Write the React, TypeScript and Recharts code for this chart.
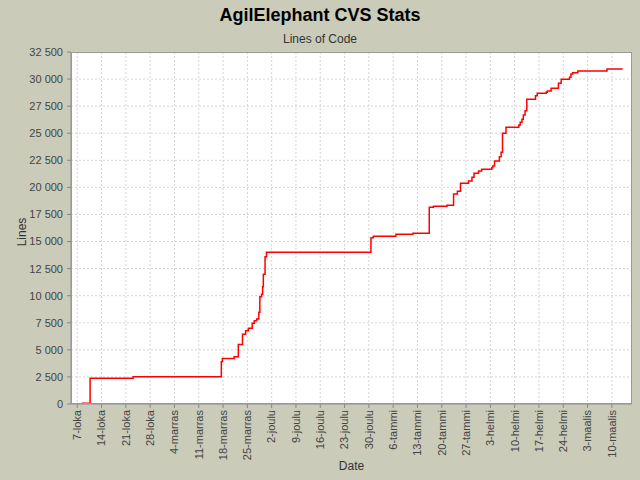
import { CartesianGrid, Line, LineChart, XAxis, YAxis } from 'recharts';

// days counted from 7-loka, and cumulative lines of code at that commit
const commitDay = [
  1.3, 3.7, 16.1, 41.5, 41.8, 45.2, 46.4, 47.6, 48.5, 49.3, 50.4, 51.0, 51.7, 52.3, 52.6, 53.1,
  53.4, 53.6, 54.1, 54.5, 84.6, 85.3, 91.8, 96.7, 101.4, 102.6, 106.5, 108.4, 109.5, 110.4,
  112.7, 113.7, 114.3, 115.6, 116.5, 119.4, 119.7, 120.2, 121.6, 122.1, 122.5, 123.5, 127.2,
  127.6, 128.1, 128.5, 129.0, 129.5, 132.0, 132.5, 135.1, 135.4, 136.5, 138.6, 139.4, 141.8,
  142.2, 142.7, 144.2, 152.6, 156.9,
];
const lineCount = [
  60, 2370, 2520, 3900, 4200, 4370, 5500, 6450, 6770, 6990, 7450, 7690, 7850, 8460, 9910, 10130,
  10830, 11980, 13600, 14000, 15360, 15480, 15670, 15760, 18160, 18250, 18350, 19390, 19640, 20380,
  20590, 20930, 21300, 21510, 21670, 21820, 21970, 22440, 22830, 23240, 24990, 25550, 25760,
  26010, 26290, 26680, 27080, 28130, 28470, 28690, 28780, 28900, 29150, 29610, 29980, 30160,
  30470, 30590, 30750, 30930, 31000,
];

const weekLabels = [
  '7-loka', '14-loka', '21-loka', '28-loka', '4-marras', '11-marras', '18-marras', '25-marras',
  '2-joulu', '9-joulu', '16-joulu', '23-joulu', '30-joulu', '6-tammi', '13-tammi', '20-tammi',
  '27-tammi', '3-helmi', '10-helmi', '17-helmi', '24-helmi', '3-maalis', '10-maalis',
];
const yTicks = [
  0, 2500, 5000, 7500, 10000, 12500, 15000, 17500, 20000, 22500, 25000, 27500, 30000, 32500,
];

const data = commitDay.map((day, i) => ({ day, lines: lineCount[i] }));
const xTicks = weekLabels.map((_, i) => i * 7);

const FONT = '"Liberation Sans", Arial, sans-serif';
const BG = '#cbcbb9';

const fmtLines = (v: number) => String(v).replace(/\B(?=(\d{3})+(?!\d))/g, ' ');

function WeekTick(props: any) {
  const { x, y, payload } = props;
  const label = weekLabels[Math.round(payload.value / 7)] ?? '';
  return (
    <text
      x={x}
      y={y}
      dy="0.35em"
      transform={`rotate(-90, ${x}, ${y})`}
      textAnchor="end"
      fontSize={11}
      fontFamily={FONT}
      fill="#444"
    >
      {label}
    </text>
  );
}

export default function App() {
  return (
    <div
      style={{
        position: 'absolute',
        left: 0,
        top: 0,
        width: 640,
        height: 480,
        background: BG,
        fontFamily: FONT,
      }}
    >
      <div style={{ position: 'absolute', top: 5, width: 640, textAlign: 'center', fontSize: 18, fontWeight: 'bold', color: '#000' }}>
        AgilElephant CVS Stats
      </div>
      <div style={{ position: 'absolute', top: 32, width: 640, textAlign: 'center', fontSize: 12, color: '#333' }}>
        Lines of Code
      </div>
      <div
        style={{
          position: 'absolute',
          left: 22,
          top: 232,
          transform: 'translate(-50%, -50%) rotate(-90deg)',
          fontSize: 12,
          color: '#333',
        }}
      >
        Lines
      </div>
      <LineChart
        width={640}
        height={480}
        data={data}
        margin={{ top: 52, right: 8, bottom: 6, left: 0 }}
        style={{ position: 'absolute', left: 0, top: 0 }}
      >
        <CartesianGrid
          fill="#fff"
          stroke="#d4d4d4"
          strokeDasharray="2 2"
          horizontalValues={yTicks}
          verticalValues={xTicks}
        />
        <XAxis
          dataKey="day"
          type="number"
          domain={[-1.8, 159.8]}
          ticks={xTicks}
          interval={0}
          allowDataOverflow
          height={70}
          tickSize={4}
          tickMargin={2}
          stroke="#888"
          tick={<WeekTick />}
          label={{ value: 'Date', position: 'insideBottom', offset: 4, fontSize: 12, fill: '#333', fontFamily: FONT }}
        />
        <YAxis
          type="number"
          domain={[0, 32500]}
          ticks={yTicks}
          interval={0}
          width={71}
          tickSize={4}
          tickMargin={4}
          stroke="#888"
          tickFormatter={fmtLines}
          tick={{ fontSize: 11, fill: '#444', fontFamily: FONT }}
        />
        <Line
          dataKey="lines"
          type="stepAfter"
          stroke="#ff0000"
          strokeWidth={1.5}
          dot={false}
          isAnimationActive={false}
        />
      </LineChart>
      <div
        style={{
          position: 'absolute',
          left: 71,
          top: 52,
          width: 561,
          height: 352,
          boxSizing: 'border-box',
          border: '1px solid #999',
          pointerEvents: 'none',
        }}
      />
    </div>
  );
}
